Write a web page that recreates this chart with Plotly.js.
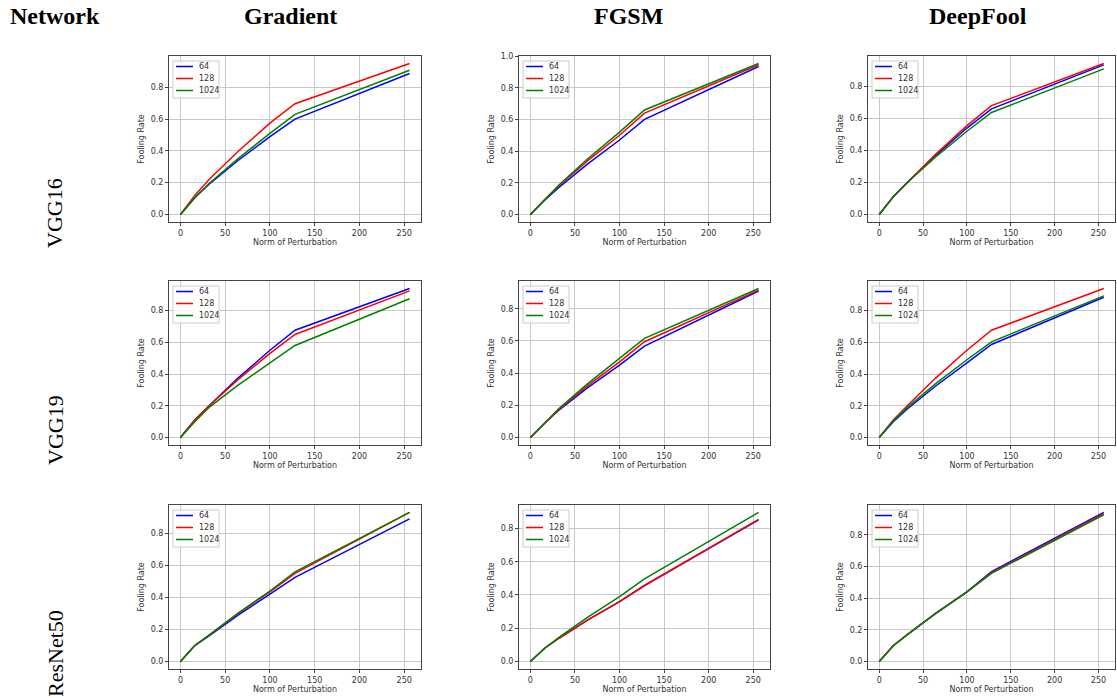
<!DOCTYPE html>
<html>
<head>
<meta charset="utf-8">
<script src="https://cdn.plot.ly/plotly-3.0.1.min.js"></script>
<style>html,body{margin:0;padding:0;background:#fff;}#chart{width:1117px;height:698px;}</style>
</head>
<body>
<div id="chart"></div>
<script>
// ---- data ----
const normOfPerturbation = [0, 16, 32, 64, 100, 128, 256];
const seriesNames = ["64", "128", "1024"];
const seriesColors = ["#0000ff", "#ff0000", "#008000"];
const attackNames = ["Gradient", "FGSM", "DeepFool"];
const networkNames = ["VGG16", "VGG19", "ResNet50"];

const vgg16_gradient_64   = [0, 0.105, 0.19, 0.338, 0.49, 0.60, 0.887];
const vgg16_gradient_128  = [0, 0.12, 0.22, 0.395, 0.575, 0.697, 0.95];
const vgg16_gradient_1024 = [0, 0.105, 0.195, 0.35, 0.51, 0.63, 0.908];

const vgg16_fgsm_64   = [0, 0.09, 0.17, 0.318, 0.47, 0.60, 0.934];
const vgg16_fgsm_128  = [0, 0.095, 0.18, 0.338, 0.50, 0.64, 0.945];
const vgg16_fgsm_1024 = [0, 0.095, 0.185, 0.35, 0.52, 0.66, 0.953];

const vgg16_deepfool_64   = [0, 0.11, 0.20, 0.368, 0.54, 0.66, 0.935];
const vgg16_deepfool_128  = [0, 0.11, 0.20, 0.375, 0.555, 0.68, 0.943];
const vgg16_deepfool_1024 = [0, 0.11, 0.20, 0.358, 0.52, 0.637, 0.91];

const vgg19_gradient_64   = [0, 0.11, 0.20, 0.373, 0.55, 0.676, 0.939];
const vgg19_gradient_128  = [0, 0.11, 0.20, 0.363, 0.53, 0.649, 0.924];
const vgg19_gradient_1024 = [0, 0.10, 0.19, 0.328, 0.47, 0.58, 0.874];

const vgg19_fgsm_64   = [0, 0.09, 0.17, 0.308, 0.45, 0.568, 0.91];
const vgg19_fgsm_128  = [0, 0.09, 0.175, 0.321, 0.47, 0.595, 0.916];
const vgg19_fgsm_1024 = [0, 0.09, 0.18, 0.333, 0.49, 0.616, 0.926];

const vgg19_deepfool_64   = [0, 0.10, 0.18, 0.323, 0.47, 0.586, 0.884];
const vgg19_deepfool_128  = [0, 0.11, 0.20, 0.373, 0.55, 0.676, 0.939];
const vgg19_deepfool_1024 = [0, 0.105, 0.19, 0.338, 0.49, 0.603, 0.892];

const resnet50_gradient_64   = [0, 0.10, 0.16, 0.288, 0.42, 0.525, 0.89];
const resnet50_gradient_128  = [0, 0.10, 0.165, 0.298, 0.435, 0.55, 0.93];
const resnet50_gradient_1024 = [0, 0.10, 0.165, 0.301, 0.44, 0.56, 0.93];

const resnet50_fgsm_64   = [0, 0.08, 0.14, 0.249, 0.36, 0.457, 0.852];
const resnet50_fgsm_128  = [0, 0.08, 0.14, 0.249, 0.36, 0.457, 0.855];
const resnet50_fgsm_1024 = [0, 0.08, 0.145, 0.266, 0.39, 0.497, 0.896];

const resnet50_deepfool_64   = [0, 0.10, 0.17, 0.303, 0.44, 0.568, 0.941];
const resnet50_deepfool_128  = [0, 0.10, 0.17, 0.303, 0.44, 0.561, 0.933];
const resnet50_deepfool_1024 = [0, 0.10, 0.17, 0.303, 0.44, 0.557, 0.926];

const panels = [
  [vgg16_gradient_64, vgg16_gradient_128, vgg16_gradient_1024],
  [vgg16_fgsm_64, vgg16_fgsm_128, vgg16_fgsm_1024],
  [vgg16_deepfool_64, vgg16_deepfool_128, vgg16_deepfool_1024],
  [vgg19_gradient_64, vgg19_gradient_128, vgg19_gradient_1024],
  [vgg19_fgsm_64, vgg19_fgsm_128, vgg19_fgsm_1024],
  [vgg19_deepfool_64, vgg19_deepfool_128, vgg19_deepfool_1024],
  [resnet50_gradient_64, resnet50_gradient_128, resnet50_gradient_1024],
  [resnet50_fgsm_64, resnet50_fgsm_128, resnet50_fgsm_1024],
  [resnet50_deepfool_64, resnet50_deepfool_128, resnet50_deepfool_1024]
];

// ---- layout (pixel geometry) ----
const W = 1117, H = 698;
const colPx = [[169, 421], [519, 770], [868, 1115]];
const rowPx = [[56, 222], [281, 445], [505, 669]];
const px = v => v / W;
const py = v => 1 - v / H;

const traces = [];
const layout = {
  width: W, height: H,
  margin: {l: 0, r: 0, t: 0, b: 0},
  paper_bgcolor: "#fff", plot_bgcolor: "#fff",
  font: {family: "DejaVu Sans", size: 8, color: "#333"},
  showlegend: false,
  annotations: [],
  shapes: []
};

const axisFont = {family: "DejaVu Sans", size: 8, color: "#333"};

panels.forEach((series, i) => {
  const r = Math.floor(i / 3), c = i % 3;
  const n = i + 1;
  const xa = "xaxis" + (n === 1 ? "" : n), ya = "yaxis" + (n === 1 ? "" : n);
  const xr = "x" + (n === 1 ? "" : n), yr = "y" + (n === 1 ? "" : n);
  let ymax = 0, ymin = 0;
  series.forEach((s, k) => {
    s.forEach(v => { ymax = Math.max(ymax, v); ymin = Math.min(ymin, v); });
    traces.push({
      type: "scatter", mode: "lines",
      x: normOfPerturbation, y: s,
      name: seriesNames[k],
      line: {color: seriesColors[k], width: 1.5},
      xaxis: xr, yaxis: yr,
      hoverinfo: "skip"
    });
  });
  const ypad = 0.05 * (ymax - ymin);
  const xmin = normOfPerturbation[0], xmax = normOfPerturbation[normOfPerturbation.length - 1];
  const xpad = 0.05 * (xmax - xmin);
  const L = colPx[c][0], R = colPx[c][1], T = rowPx[r][0], B = rowPx[r][1];
  layout[xa] = {
    domain: [px(L), px(R)], anchor: yr,
    range: [xmin - xpad, xmax + xpad],
    tickmode: "linear", tick0: 0, dtick: 50,
    showgrid: true, gridcolor: "#c8c8c8", gridwidth: 1, zeroline: false,
    showline: true, mirror: true, linecolor: "#444", linewidth: 1,
    ticks: "outside", ticklen: 3, tickcolor: "#444",
    tickfont: axisFont,
    title: {text: "Norm of Perturbation", font: axisFont, standoff: 2}
  };
  layout[ya] = {
    domain: [py(B), py(T)], anchor: xr,
    range: [ymin - ypad, ymax + ypad],
    tickmode: "linear", tick0: 0, dtick: 0.2, tickformat: ".1f",
    showgrid: true, gridcolor: "#c8c8c8", gridwidth: 1, zeroline: false,
    showline: true, mirror: true, linecolor: "#444", linewidth: 1,
    ticks: "outside", ticklen: 3, tickcolor: "#444",
    tickfont: axisFont,
    title: {text: "Fooling Rate", font: axisFont, standoff: 4}
  };
  // legend box (matplotlib style, upper left)
  layout.shapes.push({
    type: "rect", xref: "paper", yref: "paper",
    x0: px(L + 4), x1: px(L + 50), y0: py(T + 5), y1: py(T + 42),
    line: {color: "#cccccc", width: 1}, fillcolor: "rgba(255,255,255,0.85)", layer: "above"
  });
  seriesNames.forEach((name, k) => {
    const yy = T + 10.5 + 12 * k;
    layout.shapes.push({
      type: "line", xref: "paper", yref: "paper",
      x0: px(L + 7), x1: px(L + 24), y0: py(yy), y1: py(yy),
      line: {color: seriesColors[k], width: 1.5}, layer: "above"
    });
    layout.annotations.push({
      text: name, xref: "paper", yref: "paper", x: px(L + 28), y: py(yy),
      xanchor: "left", yanchor: "middle", showarrow: false,
      font: {family: "DejaVu Sans", size: 8, color: "#333"}
    });
  });
});

// column headers and row labels
const headerFont = {family: "Liberation Serif", size: 24, color: "#000"};
layout.annotations.push({
  text: "<b>Network</b>", x: px(55), y: py(16), xref: "paper", yref: "paper",
  xanchor: "center", yanchor: "middle", showarrow: false, font: headerFont
});
const headerCenters = [290, 628, 978];
attackNames.forEach((name, c) => {
  layout.annotations.push({
    text: "<b>" + name + "</b>", x: px(headerCenters[c]), y: py(16), xref: "paper", yref: "paper",
    xanchor: "center", yanchor: "middle", showarrow: false, font: headerFont
  });
});
const rowCenters = [213, 430, 654];
networkNames.forEach((name, r) => {
  layout.annotations.push({
    text: name, x: px(55), y: py(rowCenters[r]), xref: "paper", yref: "paper",
    xanchor: "center", yanchor: "middle", showarrow: false, textangle: -90,
    font: {family: "Liberation Serif", size: 22, color: "#000"}
  });
});

Plotly.newPlot("chart", traces, layout, {staticPlot: true, displayModeBar: false});
</script>
</body>
</html>
